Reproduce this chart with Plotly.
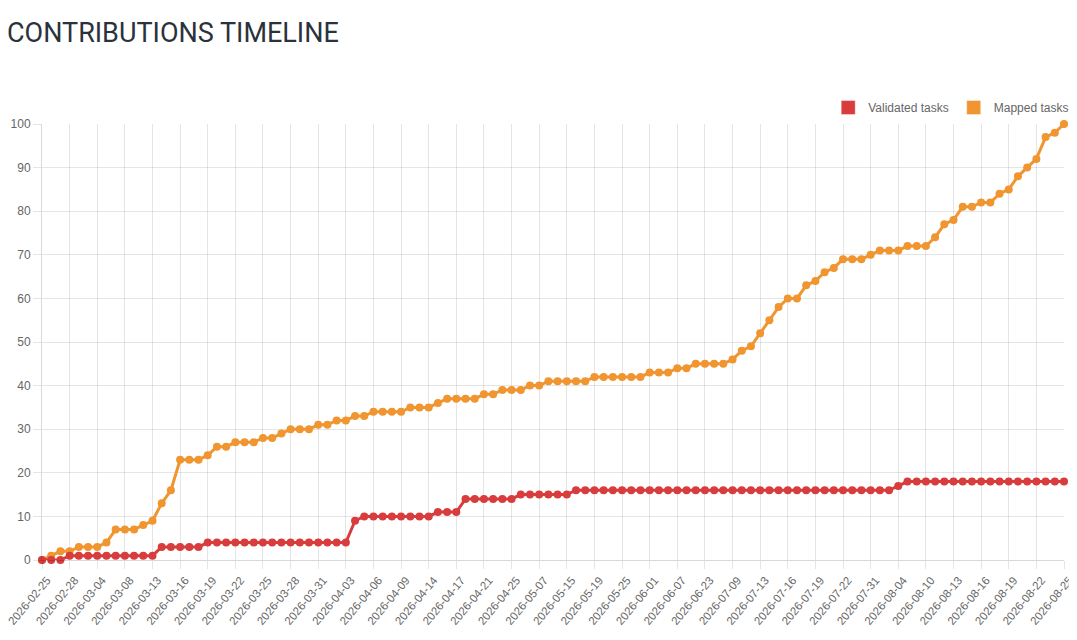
import plotly.graph_objs as go

# contribution dates (category axis, every 3rd one gets a label)
DATES = [
    "2026-02-25", "2026-02-26", "2026-02-27", "2026-02-28", "2026-03-01", "2026-03-02",
    "2026-03-04", "2026-03-05", "2026-03-07", "2026-03-08", "2026-03-10", "2026-03-11",
    "2026-03-13", "2026-03-14", "2026-03-15", "2026-03-16", "2026-03-17", "2026-03-18",
    "2026-03-19", "2026-03-20", "2026-03-21", "2026-03-22", "2026-03-23", "2026-03-24",
    "2026-03-25", "2026-03-26", "2026-03-27", "2026-03-28", "2026-03-29", "2026-03-30",
    "2026-03-31", "2026-04-01", "2026-04-02", "2026-04-03", "2026-04-04", "2026-04-05",
    "2026-04-06", "2026-04-07", "2026-04-08", "2026-04-09", "2026-04-10", "2026-04-13",
    "2026-04-14", "2026-04-15", "2026-04-16", "2026-04-17", "2026-04-18", "2026-04-20",
    "2026-04-21", "2026-04-22", "2026-04-24", "2026-04-25", "2026-04-29", "2026-05-03",
    "2026-05-07", "2026-05-10", "2026-05-12", "2026-05-15", "2026-05-16", "2026-05-18",
    "2026-05-19", "2026-05-21", "2026-05-23", "2026-05-25", "2026-05-27", "2026-05-29",
    "2026-06-01", "2026-06-03", "2026-06-05", "2026-06-07", "2026-06-12", "2026-06-18",
    "2026-06-23", "2026-06-29", "2026-07-04", "2026-07-09", "2026-07-10", "2026-07-12",
    "2026-07-13", "2026-07-14", "2026-07-15", "2026-07-16", "2026-07-17", "2026-07-18",
    "2026-07-19", "2026-07-20", "2026-07-21", "2026-07-22", "2026-07-25", "2026-07-28",
    "2026-07-31", "2026-08-01", "2026-08-03", "2026-08-04", "2026-08-06", "2026-08-08",
    "2026-08-10", "2026-08-11", "2026-08-12", "2026-08-13", "2026-08-14", "2026-08-15",
    "2026-08-16", "2026-08-17", "2026-08-18", "2026-08-19", "2026-08-20", "2026-08-21",
    "2026-08-22", "2026-08-23", "2026-08-24", "2026-08-25",
]

VALIDATED = (
    [0] * 3 + [1] * 10 + [3] * 5 + [4] * 16 + [9] + [10] * 8 + [11] * 3
    + [14] * 6 + [15] * 6 + [16] * 35 + [17] + [18] * 18
)

MAPPED = [
    0, 1, 2, 2, 3, 3, 3, 4, 7, 7, 7, 8, 9, 13, 16, 23, 23, 23, 24, 26,
    26, 27, 27, 27, 28, 28, 29, 30, 30, 30, 31, 31, 32, 32, 33,
    33, 34, 34, 34, 34, 35, 35, 35, 36, 37, 37, 37, 37, 38, 38, 39, 39, 39, 40, 40,
    41, 41, 41, 41, 41, 42,
    42, 42, 42, 42, 42, 43, 43, 43, 44, 44, 45, 45, 45, 45, 46, 48, 49, 52, 55, 58,
    60, 60, 63, 64, 66, 67, 69,
    69, 69, 70, 71, 71, 71, 72, 72, 72, 74, 77, 78, 81, 81, 82, 82, 84, 85, 88, 90,
    92, 97, 98, 100,
]

TICK_LABELS = DATES[::3]

RED = "#d83c3c"
ORANGE = "#f0952f"
GRID = "rgba(0,0,0,0.1)"
FONT = "Liberation Sans, Arial, sans-serif"


def line_trace(values, color, name):
    return go.Scatter(
        x=DATES,
        y=values,
        mode="lines+markers",
        name=name,
        line=dict(color=color, width=3),
        marker=dict(color=color, size=8),
        cliponaxis=False,
        showlegend=False,
    )


def legend_entry(color, name):
    # legend-only box, chart.js style
    return go.Scatter(
        x=[None], y=[None],
        mode="markers",
        name=name,
        marker=dict(symbol="square", size=14, color=color,
                    line=dict(color="rgba(255,255,255,0.4)", width=1)),
    )


fig = go.Figure()
fig.add_trace(line_trace(MAPPED, ORANGE, "Mapped tasks"))
fig.add_trace(line_trace(VALIDATED, RED, "Validated tasks"))
fig.add_trace(legend_entry(RED, "Validated tasks"))
fig.add_trace(legend_entry(ORANGE, "Mapped tasks"))

fig.update_layout(
    width=1077,
    height=640,
    margin=dict(l=34, r=20, t=116, b=88),
    paper_bgcolor="white",
    plot_bgcolor="white",
    font=dict(family=FONT, size=12, color="#666"),
    legend=dict(
        orientation="h",
        x=1.009, xanchor="right",
        y=1.071, yanchor="top",
        itemwidth=30,
        font=dict(size=12, color="#666"),
        bgcolor="rgba(0,0,0,0)",
    ),
    showlegend=True,
)

# page title, placed near the left edge
fig.add_annotation(
    text="CONTRIBUTIONS TIMELINE",
    xref="paper", yref="paper",
    x=-0.036, xanchor="left",
    y=1.209, yanchor="middle",
    showarrow=False,
    font=dict(family="Roboto, sans-serif", size=27, color="#2b323b"),
)

fig.update_xaxes(
    type="category",
    range=[0, len(DATES) - 1],
    tickvals=TICK_LABELS,
    ticktext=TICK_LABELS,
    tickangle=-50,
    ticklabelshift=5,
    automargin=False,
    showgrid=True,
    gridcolor=GRID,
    ticks="outside",
    ticklen=8,
    tickcolor=GRID,
    showline=True,
    linecolor="rgba(0,0,0,0.15)",
    zeroline=False,
    tickfont=dict(size=11.5, color="#666"),
)

fig.update_yaxes(
    range=[0, 100],
    dtick=10,
    automargin=False,
    showgrid=True,
    gridcolor=GRID,
    ticks="outside",
    ticklen=8,
    tickcolor=GRID,
    showline=True,
    linecolor="rgba(0,0,0,0.15)",
    zeroline=False,
    tickfont=dict(size=12, color="#666"),
)

fig.write_html("out.html")
